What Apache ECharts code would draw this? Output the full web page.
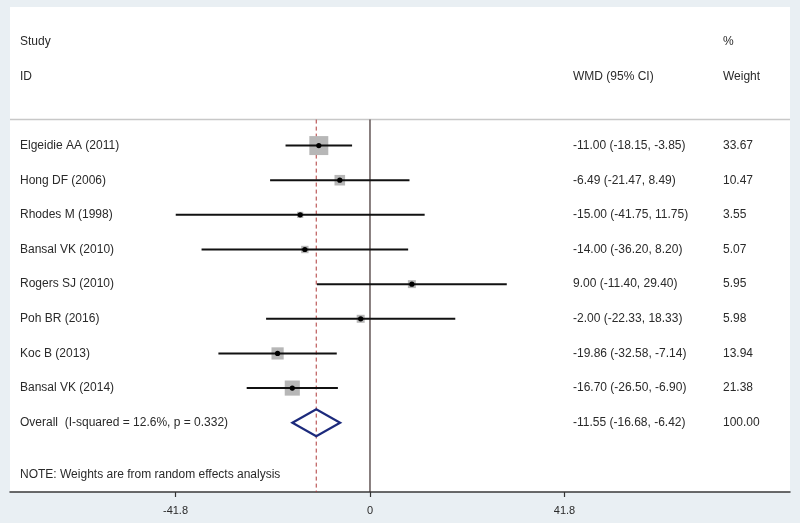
<!DOCTYPE html>
<html>
<head>
<meta charset="utf-8">
<script src="https://cdn.jsdelivr.net/npm/echarts@6/dist/echarts.min.js"></script>
<style>
  html, body { margin: 0; padding: 0; background: #e9eff3; }
  #charts { width: 800px; height: 523px; }
</style>
</head>
<body>
<div id="charts"></div>
<script>
// study data
const studies = ['Elgeidie AA (2011)', 'Hong DF (2006)', 'Rhodes M (1998)', 'Bansal VK (2010)',
  'Rogers SJ (2010)', 'Poh BR (2016)', 'Koc B (2013)', 'Bansal VK (2014)'];
const wmd = [-11.00, -6.49, -15.00, -14.00, 9.00, -2.00, -19.86, -16.70];
const ciLow = [-18.15, -21.47, -41.75, -36.20, -11.40, -22.33, -32.58, -26.50];
const ciHigh = [-3.85, 8.49, 11.75, 8.20, 29.40, 18.33, -7.14, -6.90];
const weights = [33.67, 10.47, 3.55, 5.07, 5.95, 5.98, 13.94, 21.38];

const overallLabel = 'Overall  (I-squared = 12.6%, p = 0.332)';
const overall = [-11.55, -16.68, -6.42, 100.00]; // est, low, high, weight

const xTicks = [-41.8, 0, 41.8];
const noteText = 'NOTE: Weights are from random effects analysis';

// layout
const FONT = '12px "Liberation Sans", Arial, sans-serif';
const TXT = '#2a2a2a';
const firstRow = 4;        // first study row on the y axis
const overallRow = firstRow + studies.length;
const boxScale = 3.27;     // px per sqrt(weight)
const colName = 10, colWmd = 563, colWeight = 713; // px from grid left

function fmt(v) { return v.toFixed(2); }
function ciText(e, l, h) { return fmt(e) + ' (' + fmt(l) + ', ' + fmt(h) + ')'; }

function txt(x, y, s) {
  return { type: 'text', x: x, y: y, style: { text: s, fill: TXT, font: FONT, verticalAlign: 'middle', align: 'left' } };
}

const studyData = studies.map((s, i) => [i, wmd[i], ciLow[i], ciHigh[i], weights[i]]);

const option = {
  backgroundColor: '#e9eff3',
  animation: false,
  grid: {
    show: true, left: 10, right: 10, top: 7, bottom: 31,
    backgroundColor: '#ffffff', borderWidth: 0
  },
  xAxis: {
    type: 'value', position: 'bottom', min: -77.37, max: 90.27,
    splitLine: { show: false },
    axisLine: { show: true, onZero: false, lineStyle: { color: '#3a3a3a', width: 1.5 } },
    axisTick: { show: true, customValues: xTicks, length: 5, inside: false, lineStyle: { color: '#333', width: 1.2 } },
    axisLabel: {
      customValues: xTicks, margin: 13, color: TXT, fontSize: 11,
      fontFamily: '"Liberation Sans", Arial, sans-serif',
      formatter: v => String(v)
    }
  },
  yAxis: { type: 'value', inverse: true, min: 0, max: 14, show: false },
  series: [
    {
      // frame: headers, separator, null line, overall line, note
      type: 'custom', silent: true,
      data: [[0]],
      renderItem: function (params, api) {
        const cs = params.coordSys;
        const sepY = api.coord([0, 3.25])[1];
        const bottom = cs.y + cs.height;
        const zx = api.coord([0, 0])[0];
        const ox = api.coord([overall[0], 0])[0];
        const yRow = r => api.coord([0, r])[1];
        return {
          type: 'group',
          children: [
            { type: 'line', shape: { x1: cs.x, y1: sepY, x2: cs.x + cs.width, y2: sepY }, style: { stroke: '#c8c8c8', lineWidth: 1.5 } },
            { type: 'line', shape: { x1: zx, y1: sepY, x2: zx, y2: bottom }, style: { stroke: '#3b2b2b', lineWidth: 1.2 } },
            { type: 'line', shape: { x1: ox, y1: sepY, x2: ox, y2: bottom }, style: { stroke: '#b03a3a', lineWidth: 1, lineDash: [4, 3] } },
            txt(cs.x + colName, yRow(1), 'Study'),
            txt(cs.x + colName, yRow(2), 'ID'),
            txt(cs.x + colWmd, yRow(2), 'WMD (95% CI)'),
            txt(cs.x + colWeight, yRow(1), '%'),
            txt(cs.x + colWeight, yRow(2), 'Weight'),
            txt(cs.x + colName, yRow(13.5), noteText)
          ]
        };
      }
    },
    {
      // individual studies
      type: 'custom', silent: true,
      data: studyData,
      renderItem: function (params, api) {
        const cs = params.coordSys;
        const i = api.value(0);
        const row = firstRow + i;
        const pE = api.coord([api.value(1), row]);
        const pL = api.coord([api.value(2), row]);
        const pH = api.coord([api.value(3), row]);
        const side = boxScale * Math.sqrt(api.value(4));
        return {
          type: 'group',
          children: [
            { type: 'rect', shape: { x: pE[0] - side / 2, y: pE[1] - side / 2, width: side, height: side }, style: { fill: '#b7b7b7' } },
            { type: 'line', shape: { x1: pL[0], y1: pL[1], x2: pH[0], y2: pH[1] }, style: { stroke: '#111', lineWidth: 2 } },
            { type: 'circle', shape: { cx: pE[0], cy: pE[1], r: 2.6 }, style: { fill: '#000' } },
            txt(cs.x + colName, pE[1], studies[i]),
            txt(cs.x + colWmd, pE[1], ciText(api.value(1), api.value(2), api.value(3))),
            txt(cs.x + colWeight, pE[1], fmt(api.value(4)))
          ]
        };
      }
    },
    {
      // pooled estimate diamond
      type: 'custom', silent: true,
      data: [overall],
      renderItem: function (params, api) {
        const cs = params.coordSys;
        const pE = api.coord([api.value(0), overallRow]);
        const pL = api.coord([api.value(1), overallRow]);
        const pH = api.coord([api.value(2), overallRow]);
        const hh = 13.5;
        return {
          type: 'group',
          children: [
            { type: 'polygon', shape: { points: [[pL[0], pL[1]], [pE[0], pE[1] - hh], [pH[0], pH[1]], [pE[0], pE[1] + hh]] },
              style: { fill: 'none', stroke: '#1c2a7c', lineWidth: 2.2 } },
            txt(cs.x + colName, pE[1], overallLabel),
            txt(cs.x + colWmd, pE[1], ciText(api.value(0), api.value(1), api.value(2))),
            txt(cs.x + colWeight, pE[1], fmt(api.value(3)))
          ]
        };
      }
    }
  ]
};

const chart = echarts.init(document.getElementById('charts'));
chart.setOption(option);
</script>
</body>
</html>
